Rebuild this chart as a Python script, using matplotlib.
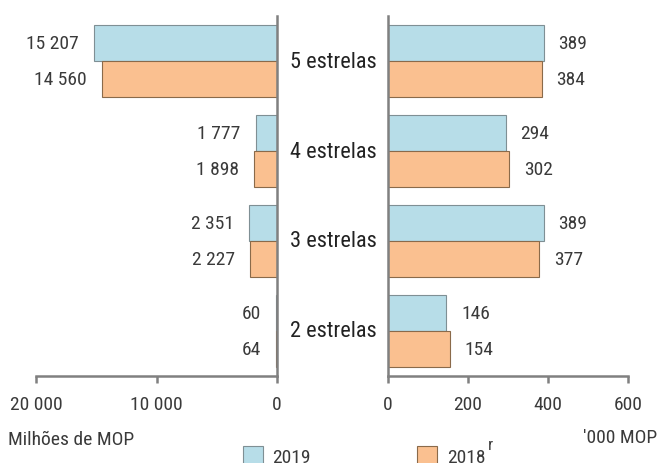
import matplotlib
matplotlib.use("Agg")
import matplotlib.pyplot as plt
from matplotlib.patches import Rectangle
from matplotlib import font_manager

categories = ["5 estrelas", "4 estrelas", "3 estrelas", "2 estrelas"]
receitas_2019 = [15207, 1777, 2351, 60]
receitas_2018 = [14560, 1898, 2227, 64]
tarifa_2019 = [389, 294, 389, 146]
tarifa_2018 = [384, 302, 377, 154]
left_ticks = [20000, 10000, 0]
left_ticklabels = ["20 000", "10 000", "0"]
right_ticks = [0, 200, 400, 600]
right_ticklabels = ["0", "200", "400", "600"]

names = {f.name for f in font_manager.fontManager.ttflist}
fam = "Roboto Condensed" if "Roboto Condensed" in names else "Liberation Sans"
plt.rcParams["font.family"] = [fam, "DejaVu Sans"]

C19 = "#b7dde8"
C18 = "#fac090"
E19 = "#7f8f94"
E18 = "#8a6a4a"
SP = "#808080"
TXT = "#3a3a3a"

W, H = 659, 464
fig = plt.figure(figsize=(W / 100, H / 100), dpi=100)

def ax_rect(x0, x1, ytop, ybot):
    return [x0 / W, 1 - ybot / H, (x1 - x0) / W, (ybot - ytop) / H]

axL = fig.add_axes(ax_rect(36, 277, 17, 377))
axR = fig.add_axes(ax_rect(388, 628, 17, 377))

n = len(categories)
pos = list(range(n))
h = 0.4

def fmt(v):
    return f"{v:,}".replace(",", " ")

for ax in (axL, axR):
    ax.set_ylim(n - 0.5, -0.5)
    ax.set_yticks([])
    for s in ax.spines.values():
        s.set_color(SP)
        s.set_linewidth(1.8)
    ax.spines["top"].set_visible(False)
    ax.tick_params(axis="x", direction="out", length=5, width=1.8, color=SP,
                   labelsize=14, labelcolor=TXT, pad=9)

axL.spines["left"].set_visible(False)
axR.spines["right"].set_visible(False)

axL.barh([p - h / 2 for p in pos], receitas_2019, height=h, color=C19, edgecolor=E19, linewidth=0.8)
axL.barh([p + h / 2 for p in pos], receitas_2018, height=h, color=C18, edgecolor=E18, linewidth=0.8)
axL.set_xlim(20000, 0)
axL.set_xticks(left_ticks)
axL.set_xticklabels(left_ticklabels)

axR.barh([p - h / 2 for p in pos], tarifa_2019, height=h, color=C19, edgecolor=E19, linewidth=0.8)
axR.barh([p + h / 2 for p in pos], tarifa_2018, height=h, color=C18, edgecolor=E18, linewidth=0.8)
axR.set_xlim(0, 600)
axR.set_xticks(right_ticks)
axR.set_xticklabels(right_ticklabels)

for i in pos:
    for v, off in ((receitas_2019[i], -h / 2), (receitas_2018[i], h / 2)):
        axL.annotate(fmt(v), (v, i + off), xytext=(-15, 0), textcoords="offset pixels",
                     ha="right", va="center", fontsize=14, color=TXT)
    for v, off in ((tarifa_2019[i], -h / 2), (tarifa_2018[i], h / 2)):
        axR.annotate(fmt(v), (v, i + off), xytext=(15, 0), textcoords="offset pixels",
                     ha="left", va="center", fontsize=14, color=TXT)
    axL.annotate(categories[i], (1.0, i), xycoords=("axes fraction", "data"),
                 xytext=(56, 0), textcoords="offset pixels",
                 ha="center", va="center", fontsize=16, color="#222222")

fig.text(8 / W, 1 - 440 / H, "Milhões de MOP", ha="left", va="center", fontsize=14, color=TXT)
fig.text(657 / W, 1 - 438 / H, "'000 MOP", ha="right", va="center", fontsize=14, color=TXT)

# legend
fig.add_artist(Rectangle((243 / W, 1 - 470 / H), 20 / W, 23 / H, transform=fig.transFigure,
                         facecolor=C19, edgecolor=E19, linewidth=0.8))
fig.text(272 / W, 1 - 463 / H, "2019", ha="left", va="baseline", fontsize=14, color=TXT)
fig.add_artist(Rectangle((417 / W, 1 - 470 / H), 20 / W, 23 / H, transform=fig.transFigure,
                         facecolor=C18, edgecolor=E18, linewidth=0.8))
fig.text(447 / W, 1 - 463 / H, "2018", ha="left", va="baseline", fontsize=14, color=TXT)
fig.text(488 / W, 1 - 446 / H, "r", ha="left", va="center", fontsize=12, color=TXT)

fig.savefig("out.png", dpi=100)
